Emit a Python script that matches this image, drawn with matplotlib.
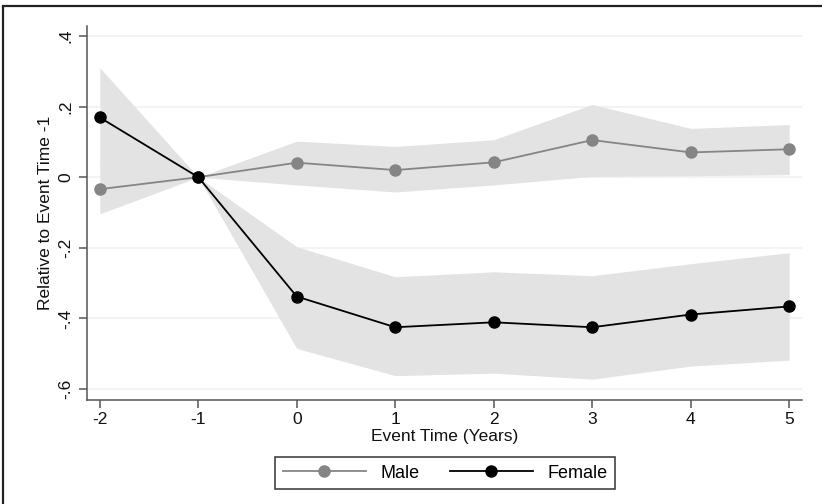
import matplotlib
matplotlib.use("Agg")
import matplotlib.pyplot as plt
from matplotlib.patches import Rectangle

plt.rcParams['font.family'] = ['Liberation Sans', 'DejaVu Sans']

# event time (years)
event_time = [-2, -1, 0, 1, 2, 3, 4, 5]

# point estimates, relative to event time -1
male = [-0.034, 0.0, 0.041, 0.02, 0.042, 0.105, 0.070, 0.079]
female = [0.169, 0.0, -0.338, -0.425, -0.411, -0.425, -0.389, -0.366]

# confidence bands
male_lo = [-0.104, 0.0, -0.022, -0.042, -0.022, 0.002, 0.004, 0.007]
male_hi = [0.040, 0.0, 0.102, 0.087, 0.106, 0.206, 0.138, 0.149]
female_lo = [0.030, 0.0, -0.485, -0.562, -0.555, -0.572, -0.535, -0.518]
female_hi = [0.310, 0.0, -0.197, -0.282, -0.268, -0.279, -0.245, -0.214]

yticks = [-0.6, -0.4, -0.2, 0, 0.2, 0.4]
ytick_labels = ['-.6', '-.4', '-.2', '0', '.2', '.4']

band_col = '#e3e3e3'
male_col = '#858585'
female_col = '#000000'

fig = plt.figure(figsize=(8.22, 5.04), dpi=100)

# outer frame (runs off the right / bottom edge)
fig.patches.append(Rectangle((3 / 822, -0.05), 1.2, 1 - 6 / 504 + 0.05,
                             transform=fig.transFigure, fill=False,
                             edgecolor='#222222', linewidth=1.6))

ax = fig.add_axes([87 / 822, 1 - 400 / 504, (802 - 87) / 822, (400 - 26) / 504])

ax.fill_between(event_time, male_lo, male_hi, color=band_col, linewidth=0, zorder=1)
ax.fill_between(event_time, female_lo, female_hi, color=band_col, linewidth=0, zorder=1)

for yv in yticks:
    ax.axhline(yv, color='#f1f1f1', linewidth=1.2, zorder=0.5)

ax.plot(event_time, male, color=male_col, marker='o', markersize=8,
        linewidth=1.3, label='Male', zorder=3)
ax.plot(event_time, female, color=female_col, marker='o', markersize=8,
        linewidth=1.3, label='Female', zorder=4)

ax.set_xlim(-2.13, 5.13)
ax.set_ylim(-0.631, 0.428)
ax.set_xticks(event_time)
ax.set_xticklabels([str(t) for t in event_time])
ax.set_yticks(yticks)
ax.set_yticklabels(ytick_labels, rotation=90, va='center')

for side in ['top', 'right']:
    ax.spines[side].set_visible(False)
for side in ['left', 'bottom']:
    ax.spines[side].set_color('#555555')
    ax.spines[side].set_linewidth(1.1)

ax.tick_params(axis='both', colors='#555555', length=6, width=1.1,
               labelsize=12.5, labelcolor='#111111')
ax.tick_params(axis='x', pad=3)
ax.tick_params(axis='y', pad=4)

ax.set_xlabel('Event Time (Years)', fontsize=12.5, color='#111111', labelpad=1)
ax.set_ylabel('Relative to Event Time -1', fontsize=12.5, color='#111111', labelpad=4)

leg = fig.legend(loc='center', bbox_to_anchor=(445 / 822, 1 - 473 / 504), ncol=2,
                 fancybox=False, edgecolor='#333333', fontsize=13,
                 handlelength=4.6, columnspacing=1.7, borderpad=0.4,
                 handletextpad=0.8, framealpha=1)
leg.get_frame().set_linewidth(1.1)

fig.savefig('out.png', dpi=100)
